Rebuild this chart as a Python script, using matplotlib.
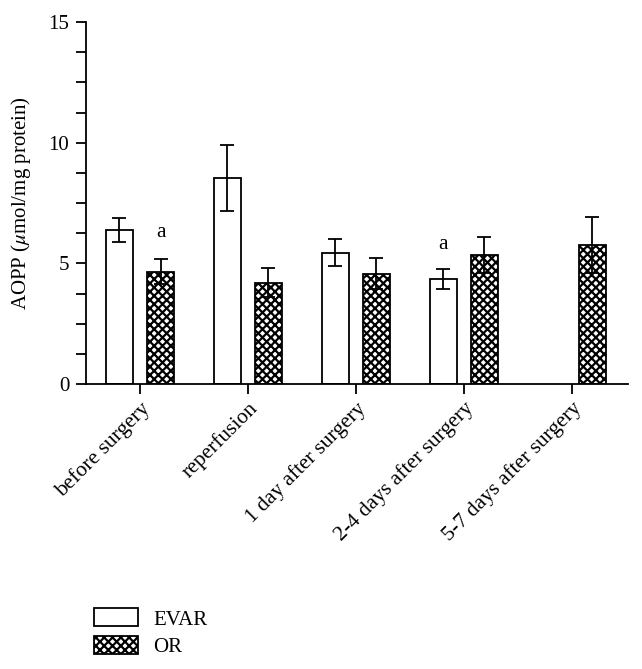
import numpy as np
import matplotlib.pyplot as plt
from matplotlib.patches import Patch

plt.rcParams['font.family'] = 'Liberation Serif'
plt.rcParams['mathtext.fontset'] = 'stix'
plt.rcParams['hatch.linewidth'] = 1.6

groups = ['before surgery', 'reperfusion', '1 day after surgery',
          '2-4 days after surgery', '5-7 days after surgery']
evar = [6.4, 8.55, 5.45, 4.35, np.nan]
evar_err = [0.5, 1.37, 0.55, 0.4, np.nan]
orr = [4.65, 4.2, 4.57, 5.35, 5.77]
orr_err = [0.52, 0.6, 0.65, 0.75, 1.16]
# significance marks: (group index, series, label height)
marks = [(0, 'OR', 5.9), (3, 'EVAR', 5.4)]

fig = plt.figure(figsize=(6.42, 6.69), dpi=100)
ax = fig.add_axes([0.134, 0.426, 0.844, 0.541])

x = np.arange(len(groups))
w = 0.25
off = 0.19
ax.bar(x - off, evar, w, color='white', edgecolor='black', linewidth=1.3)
ax.errorbar(x - off, evar, yerr=evar_err, fmt='none', ecolor='black',
            elinewidth=1.3, capsize=5, capthick=1.3)
ax.bar(x + off, orr, w, color='white', edgecolor='black', linewidth=1.3, hatch='xxxx')
ax.errorbar(x + off, orr, yerr=orr_err, fmt='none', ecolor='black',
            elinewidth=1.3, capsize=5, capthick=1.3)

for gi, s, h in marks:
    xx = gi - off if s == 'EVAR' else gi + off
    ax.text(xx, h, 'a', ha='center', va='bottom', fontsize=15.5)

ax.set_xlim(-0.5, 4.52)
ax.set_ylim(0, 15)
ax.set_yticks([0, 5, 10, 15])
ax.set_yticks(np.arange(0, 15, 1.25), minor=True)
ax.set_xticks(x)
ax.set_xticklabels(groups, rotation=45, ha='right', rotation_mode='anchor', fontsize=15.5)
ax.tick_params(axis='y', labelsize=15, length=7, width=1.3, pad=5)
ax.tick_params(axis='y', which='minor', length=7, width=1.3)
ax.tick_params(axis='x', length=7, width=1.3)
ax.set_ylabel(r'AOPP ($\mu$mol/mg protein)', fontsize=15, labelpad=11)
for sp in ['top', 'right']:
    ax.spines[sp].set_visible(False)
for sp in ['left', 'bottom']:
    ax.spines[sp].set_linewidth(1.3)

handles = [Patch(facecolor='white', edgecolor='black', linewidth=1.3, label='EVAR'),
           Patch(facecolor='white', edgecolor='black', linewidth=1.3, hatch='xxxx', label='OR')]
fig.legend(handles=handles, loc='lower left', bbox_to_anchor=(0.117, -0.01), frameon=False,
           fontsize=15, handlelength=2.1, handleheight=0.95, labelspacing=0.3, handletextpad=0.75)

fig.savefig('out.png', dpi=100)
